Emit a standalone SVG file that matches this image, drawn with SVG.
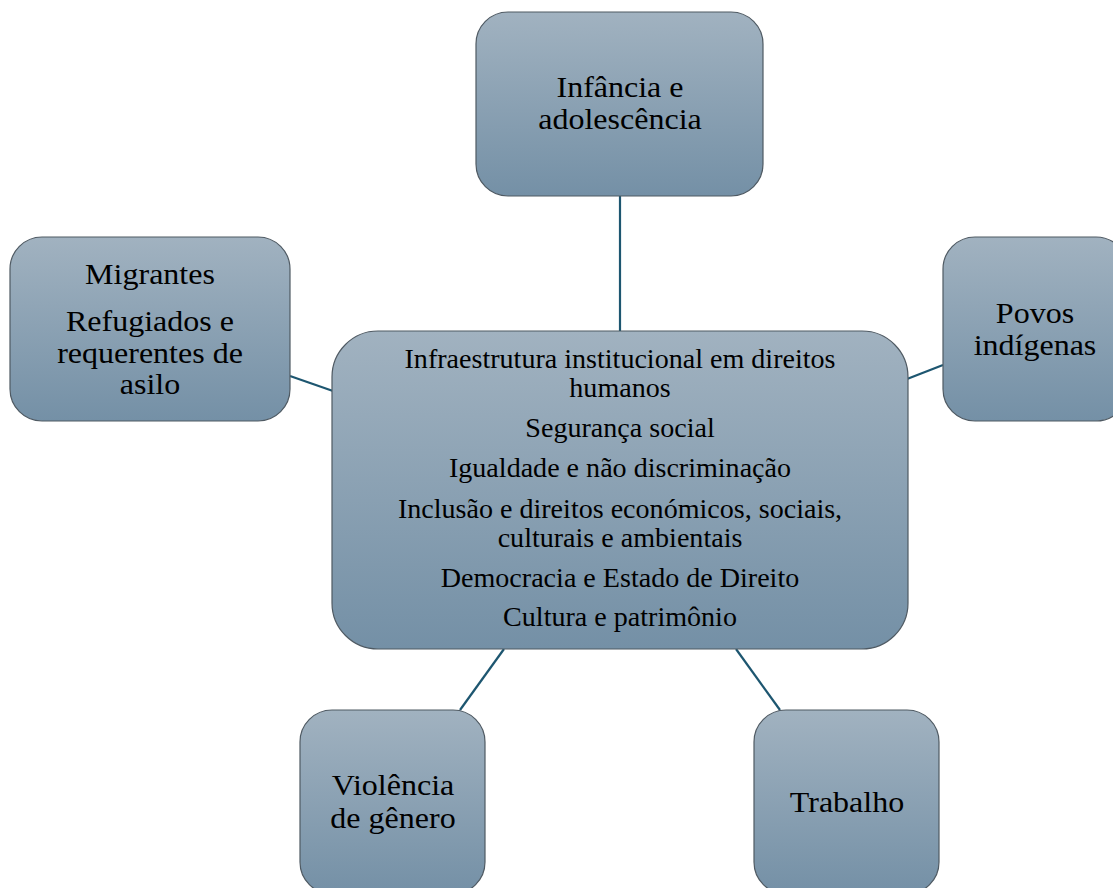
<svg xmlns="http://www.w3.org/2000/svg" width="1113" height="888" viewBox="0 0 1113 888">
<defs>
<linearGradient id="g" x1="0" y1="0" x2="0" y2="1">
<stop offset="0" stop-color="#a1b2c0"/>
<stop offset="1" stop-color="#7490a6"/>
</linearGradient>
<style>
.box{fill:url(#g);stroke:#4f5a63;stroke-width:1.2}
.con{stroke:#1d5670;stroke-width:2.2;fill:none}
</style>
</defs>
<rect width="1113" height="888" fill="#ffffff"/>
<g id="connectors">
<line class="con" x1="620" y1="196" x2="620" y2="331"/>
<line class="con" x1="290" y1="376" x2="333" y2="391"/>
<line class="con" x1="907" y1="379" x2="943" y2="365"/>
<line class="con" x1="460" y1="710" x2="504" y2="649"/>
<line class="con" x1="736" y1="649" x2="780" y2="710"/>
</g>
<g id="n-infancia">
<rect class="box" x="476" y="12" width="287" height="184" rx="32"/>
<g transform="translate(620,0) scale(1.067,1)">
<text font-family="Liberation Serif, serif" font-size="30" text-anchor="middle" x="0" y="97">Infância e</text>
<text font-family="Liberation Serif, serif" font-size="30" text-anchor="middle" x="0" y="129">adolescência</text>
</g>
</g>
<g id="n-centro">
<rect class="box" x="332" y="331" width="576" height="318" rx="46"/>
<g transform="translate(620,0) scale(1.04,1)">
<text font-family="Liberation Serif, serif" font-size="27" text-anchor="middle" x="0" y="368">Infraestrutura institucional em direitos</text>
<text font-family="Liberation Serif, serif" font-size="27" text-anchor="middle" x="0" y="397">humanos</text>
<text font-family="Liberation Serif, serif" font-size="27" text-anchor="middle" x="0" y="437">Segurança social</text>
<text font-family="Liberation Serif, serif" font-size="27" text-anchor="middle" x="0" y="477">Igualdade e não discriminação</text>
<text font-family="Liberation Serif, serif" font-size="27" text-anchor="middle" x="0" y="518">Inclusão e direitos económicos, sociais,</text>
<text font-family="Liberation Serif, serif" font-size="27" text-anchor="middle" x="0" y="547">culturais e ambientais</text>
<text font-family="Liberation Serif, serif" font-size="27" text-anchor="middle" x="0" y="587">Democracia e Estado de Direito</text>
<text font-family="Liberation Serif, serif" font-size="27" text-anchor="middle" x="0" y="626">Cultura e patrimônio</text>
</g>
</g>
<g id="n-migrantes">
<rect class="box" x="10" y="237" width="280" height="184" rx="32"/>
<g transform="translate(150,0) scale(1.067,1)">
<text font-family="Liberation Serif, serif" font-size="30" text-anchor="middle" x="0" y="284">Migrantes</text>
<text font-family="Liberation Serif, serif" font-size="30" text-anchor="middle" x="0" y="331">Refugiados e</text>
<text font-family="Liberation Serif, serif" font-size="30" text-anchor="middle" x="0" y="363">requerentes de</text>
<text font-family="Liberation Serif, serif" font-size="30" text-anchor="middle" x="0" y="394">asilo</text>
</g>
</g>
<g id="n-povos">
<rect class="box" x="943" y="237" width="185" height="184" rx="32"/>
<g transform="translate(1035,0) scale(1.067,1)">
<text font-family="Liberation Serif, serif" font-size="30" text-anchor="middle" x="0" y="323">Povos</text>
<text font-family="Liberation Serif, serif" font-size="30" text-anchor="middle" x="0" y="355">indígenas</text>
</g>
</g>
<g id="n-violencia">
<rect class="box" x="300" y="710" width="185" height="184" rx="32"/>
<g transform="translate(393,0) scale(1.067,1)">
<text font-family="Liberation Serif, serif" font-size="30" text-anchor="middle" x="0" y="795">Violência</text>
<text font-family="Liberation Serif, serif" font-size="30" text-anchor="middle" x="0" y="828">de gênero</text>
</g>
</g>
<g id="n-trabalho">
<rect class="box" x="754" y="710" width="185" height="184" rx="32"/>
<g transform="translate(847,0) scale(1.067,1)">
<text font-family="Liberation Serif, serif" font-size="30" text-anchor="middle" x="0" y="812">Trabalho</text>
</g>
</g>
</svg>
